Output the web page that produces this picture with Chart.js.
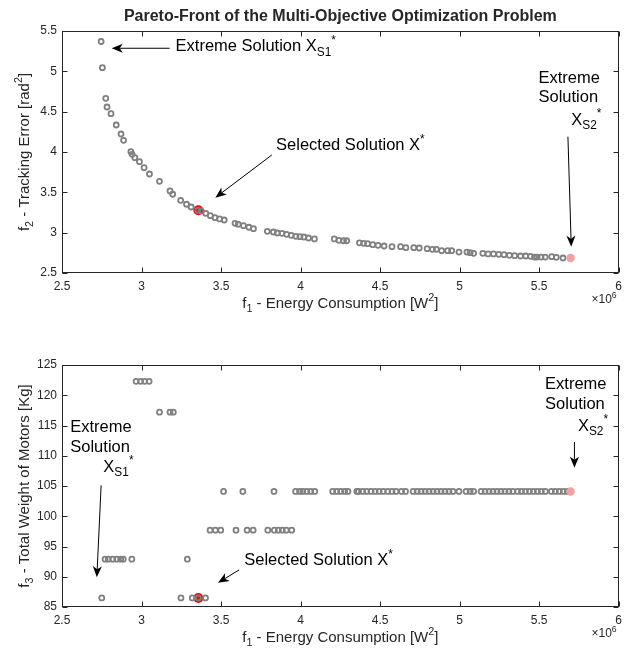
<!DOCTYPE html>
<html>
<head>
<meta charset="utf-8">
<script src="https://cdn.jsdelivr.net/npm/chart.js@4.4.1/dist/chart.umd.min.js"></script>
<style>
  html, body { margin: 0; padding: 0; background: #fff; }
  #wrap { position: relative; width: 628px; height: 653px; }
  canvas { position: absolute; left: 0; }
</style>
</head>
<body>
<div id="wrap">
  <canvas id="top" width="628" height="330" style="top:0"></canvas>
  <canvas id="bottom" width="628" height="323" style="top:330px"></canvas>
</div>
<script>
// f1 in units of 1e6 W^2
const f1Top = [2.746, 2.754, 2.775, 2.783, 2.808, 2.841, 2.871, 2.887, 2.933, 2.941, 2.958, 2.987, 3.016, 3.05, 3.113,
  3.179, 3.196, 3.246, 3.283, 3.312, 3.354, 3.375, 3.404, 3.433, 3.462, 3.491, 3.52, 3.588, 3.608, 3.641, 3.675, 3.704,
  3.791, 3.829, 3.854, 3.883, 3.912, 3.941, 3.971, 3.996, 4.021, 4.05, 4.087, 4.212, 4.241, 4.27, 4.29, 4.37, 4.396,
  4.421, 4.454, 4.487, 4.525, 4.575, 4.629, 4.662, 4.712, 4.746, 4.796, 4.829, 4.854, 4.887, 4.925, 4.95, 4.996, 5.046,
  5.066, 5.088, 5.146, 5.179, 5.213, 5.246, 5.279, 5.313, 5.346, 5.383, 5.416, 5.446, 5.471, 5.487, 5.512, 5.538,
  5.579, 5.608, 5.65, 5.696];
const f2 = [5.37, 5.045, 4.666, 4.558, 4.475, 4.335, 4.223, 4.145, 4.004, 3.971, 3.93, 3.88, 3.806, 3.727, 3.637,
  3.517, 3.476, 3.401, 3.352, 3.318, 3.277, 3.269, 3.24, 3.211, 3.186, 3.17, 3.157, 3.116, 3.104, 3.087, 3.067, 3.05,
  3.017, 3.008, 2.996, 2.992, 2.98, 2.967, 2.955, 2.95, 2.946, 2.934, 2.922, 2.922, 2.905, 2.9, 2.9, 2.874, 2.868,
  2.863, 2.851, 2.843, 2.835, 2.826, 2.826, 2.814, 2.814, 2.81, 2.801, 2.794, 2.794, 2.777, 2.777, 2.777, 2.76, 2.76,
  2.752, 2.744, 2.744, 2.736, 2.736, 2.732, 2.727, 2.719, 2.715, 2.711, 2.711, 2.707, 2.698, 2.698, 2.698, 2.698,
  2.702, 2.694, 2.686, 2.686];

// f3 only takes a few discrete values; f1 of the solutions at each level
const f3Levels = [122.3, 117.2, 104.1, 97.7, 92.9, 86.5];
const f1AtLevel = [
  [2.966, 2.994, 3.02, 3.048],
  [3.113, 3.179, 3.2],
  [3.516, 3.637, 3.833, 3.969, 3.994, 4.014, 4.039, 4.064, 4.089, 4.202, 4.227, 4.252, 4.277, 4.298, 4.354, 4.364,
   4.39, 4.416, 4.443, 4.469, 4.494, 4.52, 4.548, 4.575, 4.6, 4.635, 4.66, 4.708, 4.733, 4.758, 4.783, 4.808, 4.833,
   4.858, 4.883, 4.908, 4.933, 4.958, 4.996, 5.041, 5.066, 5.088, 5.135, 5.16, 5.185, 5.21, 5.235, 5.26, 5.285, 5.31,
   5.335, 5.364, 5.389, 5.414, 5.439, 5.464, 5.489, 5.514, 5.539, 5.577, 5.602, 5.627, 5.652, 5.677, 5.698],
  [3.431, 3.464, 3.498, 3.594, 3.664, 3.702, 3.794, 3.835, 3.86, 3.885, 3.91, 3.944],
  [2.771, 2.791, 2.819, 2.844, 2.869, 2.885, 2.939, 3.288],
  [2.75, 3.248, 3.319, 3.357, 3.402]
];

const selected = { f1: 3.357, f2: 3.277, f3: 86.5 };
const extremeS2 = { f1: 5.698, f2: 2.686, f3: 104.1 };

const xTicks = [2.5, 3, 3.5, 4, 4.5, 5, 5.5, 6];
const f2Ticks = [2.5, 3, 3.5, 4, 4.5, 5, 5.5];
const f3Ticks = [85, 90, 95, 100, 105, 110, 115, 120, 125];

const INK = '#262626';
const GRAY = '#808080';
const FONT = '"Liberation Sans", Arial, Helvetica, sans-serif';
Chart.defaults.font.family = FONT;

function richWidth(ctx, parts, size) {
  let w = 0;
  parts.forEach(p => {
    ctx.font = ((p.sub || p.sup) ? size * 0.72 : size) + 'px ' + FONT;
    w += ctx.measureText(p.t).width;
  });
  return w;
}

function drawRich(ctx, x, y, parts, size, align) {
  const w = richWidth(ctx, parts, size);
  let cx = align === 'center' ? x - w / 2 : x;
  ctx.textBaseline = 'middle';
  ctx.textAlign = 'left';
  parts.forEach(p => {
    const s = (p.sub || p.sup) ? size * 0.72 : size;
    ctx.font = s + 'px ' + FONT;
    const dy = p.sub ? size * 0.36 : p.sup ? -size * 0.38 : 0;
    ctx.fillText(p.t, cx, y + dy);
    cx += ctx.measureText(p.t).width;
  });
}

function drawArrow(ctx, x1, y1, x2, y2) {
  const ang = Math.atan2(y2 - y1, x2 - x1);
  const L = 11, W = 4.5, N = 8;
  ctx.beginPath();
  ctx.moveTo(x1, y1);
  ctx.lineTo(x2 - N * Math.cos(ang), y2 - N * Math.sin(ang));
  ctx.stroke();
  ctx.save();
  ctx.translate(x2, y2);
  ctx.rotate(ang);
  ctx.beginPath();
  ctx.moveTo(0, 0);
  ctx.lineTo(-L, -W);
  ctx.lineTo(-N, 0);
  ctx.lineTo(-L, W);
  ctx.closePath();
  ctx.fill();
  ctx.restore();
}

// box, inward ticks, axis labels and the text arrows (MATLAB look)
const matlabLook = {
  id: 'matlabLook',
  afterDraw(chart, args, o) {
    const { ctx, chartArea: a, scales: { x, y } } = chart;
    ctx.save();
    ctx.strokeStyle = INK;
    ctx.fillStyle = INK;
    ctx.lineWidth = 1;
    const L = Math.round(a.left) + 0.5, R = Math.round(a.right) - 0.5;
    const T = Math.round(a.top) + 0.5, B = Math.round(a.bottom) - 0.5;
    ctx.strokeRect(L, T, R - L, B - T);
    ctx.beginPath();
    x.ticks.forEach(t => {
      const px = Math.round(x.getPixelForValue(t.value)) + 0.5;
      ctx.moveTo(px, B); ctx.lineTo(px, B - 5);
      ctx.moveTo(px, T); ctx.lineTo(px, T + 5);
    });
    y.ticks.forEach(t => {
      const py = Math.round(y.getPixelForValue(t.value)) + 0.5;
      ctx.moveTo(L, py); ctx.lineTo(L + 5, py);
      ctx.moveTo(R, py); ctx.lineTo(R - 5, py);
    });
    ctx.stroke();

    // axis labels
    drawRich(ctx, (a.left + a.right) / 2, a.bottom + 31, o.xLabel, 15, 'center');
    ctx.save();
    ctx.translate(25, (a.top + a.bottom) / 2);
    ctx.rotate(-Math.PI / 2);
    drawRich(ctx, 0, 0, o.yLabel, 15, 'center');
    ctx.restore();
    const ex = [{ t: '\u00d710' }, { t: '6', sup: true }];
    drawRich(ctx, a.right - 2 - richWidth(ctx, ex, 12), a.bottom + 27, ex, 12, 'left');

    if (o.title) {
      ctx.font = 'bold 16px ' + FONT;
      ctx.textAlign = 'center';
      ctx.textBaseline = 'middle';
      ctx.fillText(o.title, (a.left + a.right) / 2, 17);
    }

    // annotations, anchored in data coordinates
    ctx.fillStyle = '#000';
    ctx.strokeStyle = '#000';
    o.notes.forEach(n => {
      drawRich(ctx, x.getPixelForValue(n.x), y.getPixelForValue(n.y), n.parts, 16.5, 'left');
    });
    o.arrows.forEach(ar => {
      drawArrow(ctx, x.getPixelForValue(ar.from[0]), y.getPixelForValue(ar.from[1]),
        x.getPixelForValue(ar.to[0]), y.getPixelForValue(ar.to[1]));
    });
    ctx.restore();
  }
};

function axis(min, max, ticks, isX, size, pad) {
  return {
    type: 'linear', min, max,
    afterBuildTicks: s => { s.ticks = ticks.map(v => ({ value: v })); },
    ticks: { color: INK, font: { size: 12 }, padding: pad, autoSkip: false, maxRotation: 0, callback: v => String(v) },
    grid: { display: false, drawTicks: false },
    border: { display: false },
    afterFit: s => { if (isX) s.height = size; else s.width = size; }
  };
}

function grayRing(points) {
  return { data: points, pointRadius: 2.5, borderWidth: 1.8, borderColor: GRAY, backgroundColor: 'rgba(0,0,0,0)', pointHoverRadius: 2.5 };
}

const S1 = [{ t: 'X' }, { t: 'S1', sub: true }, { t: '*', sup: true }];
const S2 = [{ t: 'X' }, { t: 'S2', sub: true }, { t: '*', sup: true }];
const SEL = [{ t: 'Selected Solution X' }, { t: '*', sup: true }];

new Chart(document.getElementById('top'), {
  type: 'scatter',
  data: {
    datasets: [
      { data: [{ x: extremeS2.f1, y: extremeS2.f2 }], pointRadius: 4.2, borderWidth: 0, backgroundColor: '#f5a0a0' },
      grayRing(f1Top.map((v, i) => ({ x: v, y: f2[i] }))),
      { data: [{ x: selected.f1, y: selected.f2 }], pointRadius: 5, borderWidth: 0, backgroundColor: '#ff0000' }
    ]
  },
  options: {
    responsive: false, animation: false, events: [],
    layout: { padding: { left: 0, right: 6, top: 31, bottom: 0 } },
    scales: { x: axis(2.5, 6, xTicks, true, 57, 6), y: axis(2.5, 5.5, f2Ticks, false, 62, 5) },
    plugins: {
      legend: { display: false }, tooltip: { enabled: false },
      matlabLook: {
        title: 'Pareto-Front of the Multi-Objective Optimization Problem',
        xLabel: [{ t: 'f' }, { t: '1', sub: true }, { t: ' - Energy Consumption [W' }, { t: '2', sup: true }, { t: ']' }],
        yLabel: [{ t: 'f' }, { t: '2', sub: true }, { t: ' - Tracking Error [rad' }, { t: '2', sup: true }, { t: ']' }],
        notes: [
          { x: 3.214, y: 5.305, parts: [{ t: 'Extreme Solution ' }].concat(S1) },
          { x: 3.846, y: 4.078, parts: SEL },
          { x: 5.496, y: 4.914, parts: [{ t: 'Extreme' }] },
          { x: 5.496, y: 4.673, parts: [{ t: 'Solution' }] },
          { x: 5.702, y: 4.397, parts: S2 }
        ],
        arrows: [
          { from: [3.177, 5.286], to: [2.8125, 5.286] },
          { from: [3.819, 3.963], to: [3.464, 3.434] },
          { from: [5.681, 4.19], to: [5.702, 2.826] }
        ]
      }
    }
  },
  plugins: [matlabLook]
});

const bottomPoints = [];
f3Levels.forEach((lv, i) => f1AtLevel[i].forEach(v => bottomPoints.push({ x: v, y: lv })));

new Chart(document.getElementById('bottom'), {
  type: 'scatter',
  data: {
    datasets: [
      { data: [{ x: extremeS2.f1, y: extremeS2.f3 }], pointRadius: 4.2, borderWidth: 0, backgroundColor: '#f5a0a0' },
      grayRing(bottomPoints),
      { data: [{ x: selected.f1, y: selected.f3 }], pointRadius: 5, borderWidth: 0, backgroundColor: '#ff0000' }
    ]
  },
  options: {
    responsive: false, animation: false, events: [],
    layout: { padding: { left: 0, right: 6, top: 35, bottom: 0 } },
    scales: { x: axis(2.5, 6, xTicks, true, 46, 6), y: axis(85, 125, f3Ticks, false, 62, 5) },
    plugins: {
      legend: { display: false }, tooltip: { enabled: false },
      matlabLook: {
        xLabel: [{ t: 'f' }, { t: '1', sub: true }, { t: ' - Energy Consumption [W' }, { t: '2', sup: true }, { t: ']' }],
        yLabel: [{ t: 'f' }, { t: '3', sub: true }, { t: ' - Total Weight of Motors [Kg]' }],
        notes: [
          { x: 2.552, y: 114.7, parts: [{ t: 'Extreme' }] },
          { x: 2.552, y: 111.34, parts: [{ t: 'Solution' }] },
          { x: 2.76, y: 108.13, parts: S1 },
          { x: 3.646, y: 92.68, parts: SEL },
          { x: 5.5375, y: 121.77, parts: [{ t: 'Extreme' }] },
          { x: 5.5375, y: 118.51, parts: [{ t: 'Solution' }] },
          { x: 5.744, y: 114.92, parts: S2 }
        ],
        arrows: [
          { from: [2.746, 105.11], to: [2.719, 89.92] },
          { from: [3.614, 91.14], to: [3.481, 88.99] },
          { from: [5.722, 112.27], to: [5.722, 108.03] }
        ]
      }
    }
  },
  plugins: [matlabLook]
});
</script>
</body>
</html>
